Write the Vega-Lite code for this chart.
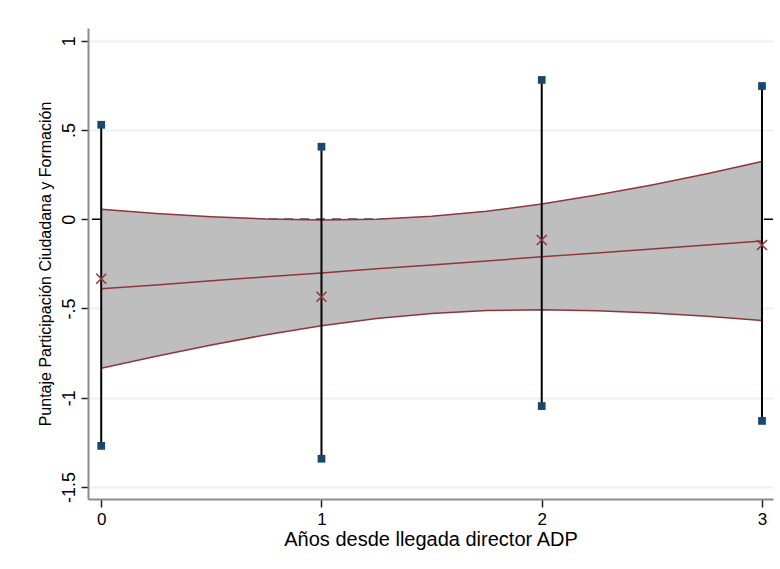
{
  "$schema": "https://vega.github.io/schema/vega-lite/v6.json",
  "autosize": "none",
  "width": 685,
  "height": 471,
  "padding": {"left": 88, "top": 28, "right": 7, "bottom": 70},
  "background": "white",
  "config": {
    "view": {"stroke": null},
    "font": "Liberation Sans",
    "axis": {"labelFont": "Liberation Sans", "titleFont": "Liberation Sans", "titleFontWeight": "normal", "labelColor": "#000000", "titleColor": "#000000"}
  },
  "datasets": {
    "band": [
      {"x": 0, "fit": -0.390, "lo": -0.835, "hi": 0.055},
      {"x": 0.25, "fit": -0.368, "lo": -0.768, "hi": 0.032},
      {"x": 0.5, "fit": -0.345, "lo": -0.705, "hi": 0.014},
      {"x": 0.75, "fit": -0.323, "lo": -0.647, "hi": 0.001},
      {"x": 1, "fit": -0.301, "lo": -0.597, "hi": -0.005},
      {"x": 1.25, "fit": -0.278, "lo": -0.557, "hi": 0.0},
      {"x": 1.5, "fit": -0.256, "lo": -0.528, "hi": 0.016},
      {"x": 1.75, "fit": -0.234, "lo": -0.512, "hi": 0.044},
      {"x": 2, "fit": -0.211, "lo": -0.508, "hi": 0.085},
      {"x": 2.25, "fit": -0.189, "lo": -0.513, "hi": 0.135},
      {"x": 2.5, "fit": -0.167, "lo": -0.526, "hi": 0.192},
      {"x": 2.75, "fit": -0.144, "lo": -0.544, "hi": 0.255},
      {"x": 3, "fit": -0.122, "lo": -0.567, "hi": 0.323}
    ],
    "points": [
      {"x": 0, "mean": -0.334, "lo": -1.27, "hi": 0.529},
      {"x": 1, "mean": -0.434, "lo": -1.342, "hi": 0.406},
      {"x": 2, "mean": -0.117, "lo": -1.047, "hi": 0.78},
      {"x": 3, "mean": -0.145, "lo": -1.13, "hi": 0.746}
    ],
    "zero": [{"y": 0}]
  },
  "layer": [
    {
      "data": {"name": "zero"},
      "mark": {"type": "rule", "color": "#000000", "strokeWidth": 1.5, "strokeDash": [9, 7]},
      "encoding": {
        "y": {
          "field": "y", "type": "quantitative",
          "scale": {"domain": [-1.5675, 1.071], "nice": false, "zero": false},
          "axis": {
            "values": [-1.5, -1, -0.5, 0, 0.5, 1],
            "labelExpr": "(datum.value < 0 ? '-' : '') + replace(toString(abs(datum.value)), '0.', '.')",
            "labelAngle": -90,
            "labelAlign": "center",
            "labelBaseline": "bottom",
            "labelPadding": 3,
            "labelFontSize": 18,
            "tickSize": 7,
            "tickColor": "#222222",
            "tickWidth": 1.5,
            "domainColor": "#8c8c8c",
            "domainWidth": 2,
            "grid": true,
            "gridColor": "#eaf2f3",
            "gridWidth": 2,
            "title": "Puntaje Participación Ciudadana y Formación",
            "titleFontSize": 16,
            "titlePadding": 7
          }
        }
      }
    },
    {
      "data": {"name": "band"},
      "mark": {"type": "area", "color": "#bebebe", "opacity": 1},
      "encoding": {
        "x": {
          "field": "x", "type": "quantitative",
          "scale": {"domain": [-0.06, 3.05], "nice": false, "zero": false},
          "axis": {
            "values": [0, 1, 2, 3],
            "format": "d",
            "labelFontSize": 17,
            "labelPadding": 4,
            "tickSize": 8,
            "tickColor": "#222222",
            "tickWidth": 1.5,
            "domainColor": "#8c8c8c",
            "domainWidth": 2,
            "grid": false,
            "title": "Años desde llegada director ADP",
            "titleFontSize": 20,
            "titlePadding": 2
          }
        },
        "y": {"field": "lo", "type": "quantitative"},
        "y2": {"field": "hi"}
      }
    },
    {
      "data": {"name": "band"},
      "mark": {"type": "line", "color": "#90353b", "strokeWidth": 1.5},
      "encoding": {
        "x": {"field": "x", "type": "quantitative"},
        "y": {"field": "hi", "type": "quantitative"}
      }
    },
    {
      "data": {"name": "band"},
      "mark": {"type": "line", "color": "#90353b", "strokeWidth": 1.5},
      "encoding": {
        "x": {"field": "x", "type": "quantitative"},
        "y": {"field": "lo", "type": "quantitative"}
      }
    },
    {
      "data": {"name": "band"},
      "mark": {"type": "line", "color": "#90353b", "strokeWidth": 1.5},
      "encoding": {
        "x": {"field": "x", "type": "quantitative"},
        "y": {"field": "fit", "type": "quantitative"}
      }
    },
    {
      "data": {"name": "points"},
      "mark": {"type": "rule", "color": "#000000", "strokeWidth": 2},
      "encoding": {
        "x": {"field": "x", "type": "quantitative"},
        "y": {"field": "lo", "type": "quantitative"},
        "y2": {"field": "hi"}
      }
    },
    {
      "data": {"name": "points"},
      "mark": {"type": "point", "shape": "square", "filled": true, "color": "#1a476f", "size": 60, "opacity": 1},
      "encoding": {
        "x": {"field": "x", "type": "quantitative"},
        "y": {"field": "hi", "type": "quantitative"}
      }
    },
    {
      "data": {"name": "points"},
      "mark": {"type": "point", "shape": "square", "filled": true, "color": "#1a476f", "size": 60, "opacity": 1},
      "encoding": {
        "x": {"field": "x", "type": "quantitative"},
        "y": {"field": "lo", "type": "quantitative"}
      }
    },
    {
      "data": {"name": "points"},
      "mark": {"type": "point", "shape": "M-1,-1L1,1M1,-1L-1,1", "filled": false, "color": "#90353b", "strokeWidth": 1.5, "size": 100, "opacity": 1},
      "encoding": {
        "x": {"field": "x", "type": "quantitative"},
        "y": {"field": "mean", "type": "quantitative"}
      }
    }
  ]
}
